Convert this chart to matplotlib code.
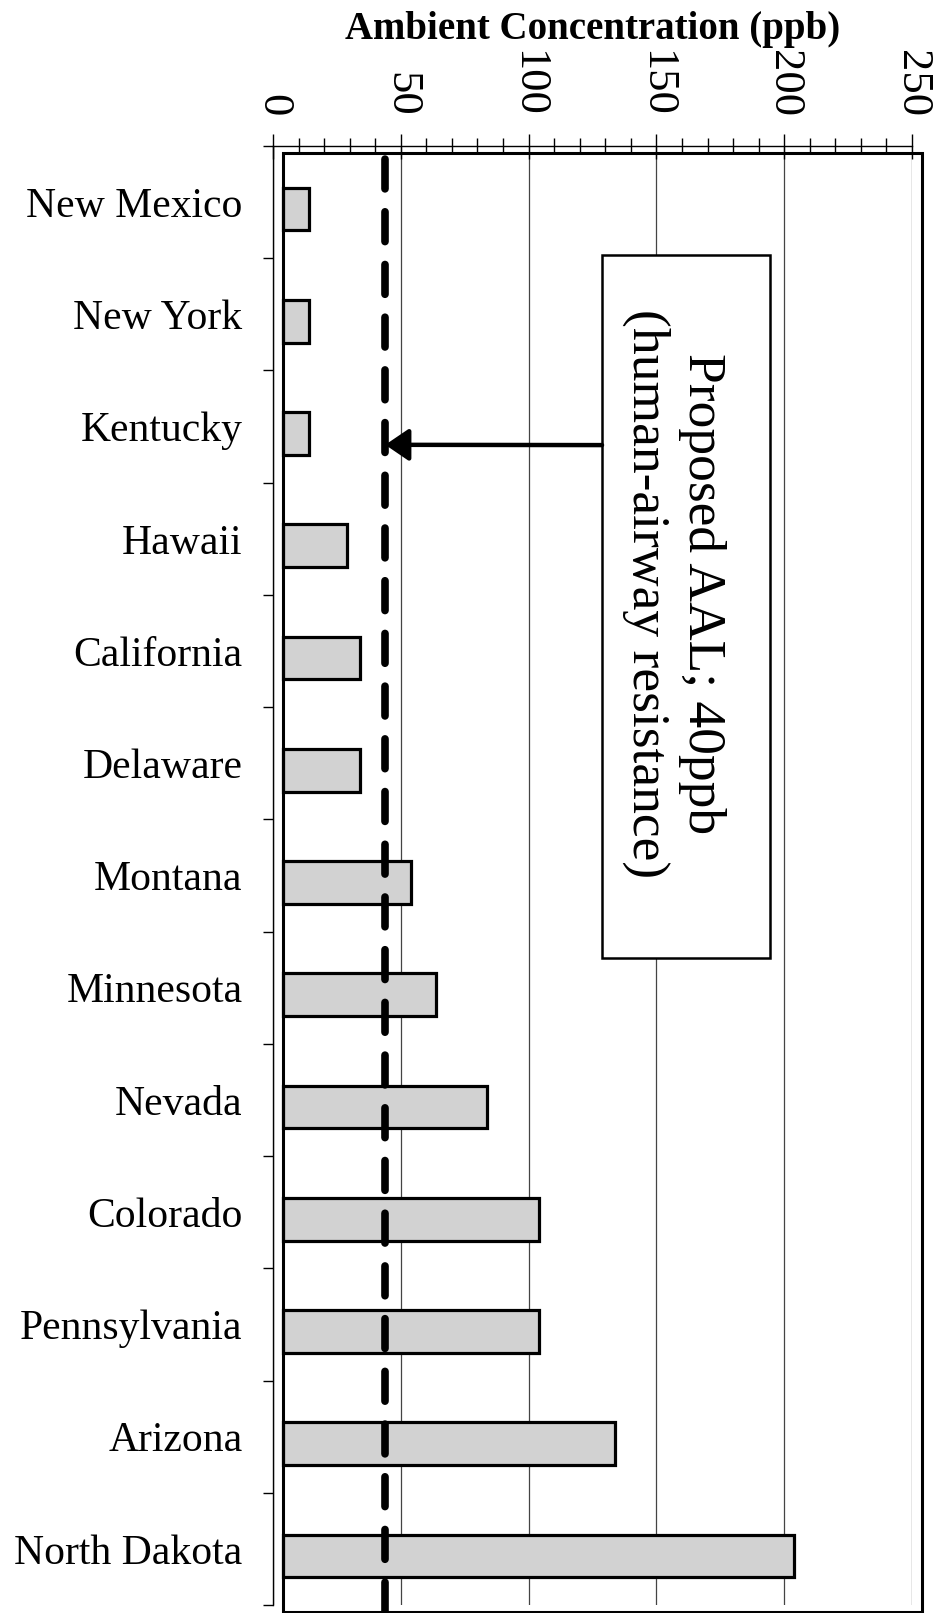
import matplotlib
matplotlib.use('Agg')
import matplotlib.pyplot as plt
import matplotlib.transforms as mtransforms
from matplotlib.patches import Rectangle

states = ['New Mexico', 'New York', 'Kentucky', 'Hawaii', 'California', 'Delaware',
          'Montana', 'Minnesota', 'Nevada', 'Colorado', 'Pennsylvania', 'Arizona',
          'North Dakota']
conc = [10, 10, 10, 25, 30, 30, 50, 60, 80, 100, 100, 130, 200]
aal = 40
xticks = [0, 50, 100, 150, 200, 250]
note = 'Proposed AAL; 40ppb\n(human-airway resistance)'

plt.rcParams['font.family'] = ['Liberation Serif', 'DejaVu Serif']

fig = plt.figure(figsize=(9.41, 16.13), dpi=100)
ax = fig.add_axes([273 / 941, 8 / 1613, 639 / 941, 1459 / 1613])

# plot area in the scan sits a few pixels right/down of the axis lines
shift = mtransforms.ScaledTranslation(10 / 100, -7 / 100, fig.dpi_scale_trans)

ypos = list(range(len(states)))
bars = ax.barh(ypos, conc, height=0.38, color='#d2d2d2', edgecolor='black',
               linewidth=2.3, zorder=3)
for b in bars:
    b.set_transform(ax.transData + shift)

line = ax.axvline(aal, color='black', lw=5.5, dashes=(3.9, 3.0),
                  dash_capstyle='round', clip_on=False, zorder=4)
line.set_transform(line.get_transform() + shift)

ax.add_patch(Rectangle((0, 0), 1, 1, transform=ax.transAxes + shift, fill=False,
                       lw=2.2, edgecolor='black', clip_on=False, zorder=5))

ax.set_xlim(0, 250)
ax.set_ylim(len(states) - 0.5, -0.5)

ax.xaxis.tick_top()
ax.set_xticks(xticks)
ax.set_xticks(range(0, 251, 10), minor=True)
ax.tick_params(axis='x', which='major', direction='inout', length=18, width=1,
               labelsize=32, labelrotation=-90, pad=12)
ax.tick_params(axis='x', which='minor', direction='inout', length=11, width=1)
ax.grid(axis='x', which='major', color='#444444', lw=0.9, zorder=1)

ax.set_yticks(ypos)
ax.set_yticklabels(states)
ax.set_yticks([i - 0.5 for i in range(len(states) + 1)], minor=True)
ax.tick_params(axis='y', which='major', length=0, labelsize=30, pad=22)
ax.tick_params(axis='y', which='minor', direction='out', length=7, width=1)

for side in ['right', 'bottom']:
    ax.spines[side].set_visible(False)
ax.spines['left'].set_linewidth(1)
ax.spines['top'].set_linewidth(1)

# annotation box with rotated text
ax.add_patch(Rectangle((0.5149, 0.4435), 0.2629, 0.4818, transform=ax.transAxes,
                       facecolor='white', edgecolor='black', lw=1.8, zorder=6))
ax.text(0.6275, 0.6935, note, transform=ax.transAxes, rotation=-90,
        ha='center', va='center', multialignment='center', fontsize=38.5,
        linespacing=1.22, zorder=7)
ax.annotate('', xy=(aal, 2.1), xycoords=ax.transData + shift,
            xytext=(0.5149, 0.795), textcoords='axes fraction',
            arrowprops=dict(arrowstyle='-|>,head_length=0.72,head_width=0.49',
                            mutation_scale=20, color='black', lw=3.2,
                            shrinkA=0, shrinkB=0),
            zorder=6)

fig.text(0.630, 1 - 30 / 1613, 'Ambient Concentration (ppb)', fontsize=28,
         fontweight='bold', ha='center', va='center')

fig.savefig('out.png', dpi=100)
